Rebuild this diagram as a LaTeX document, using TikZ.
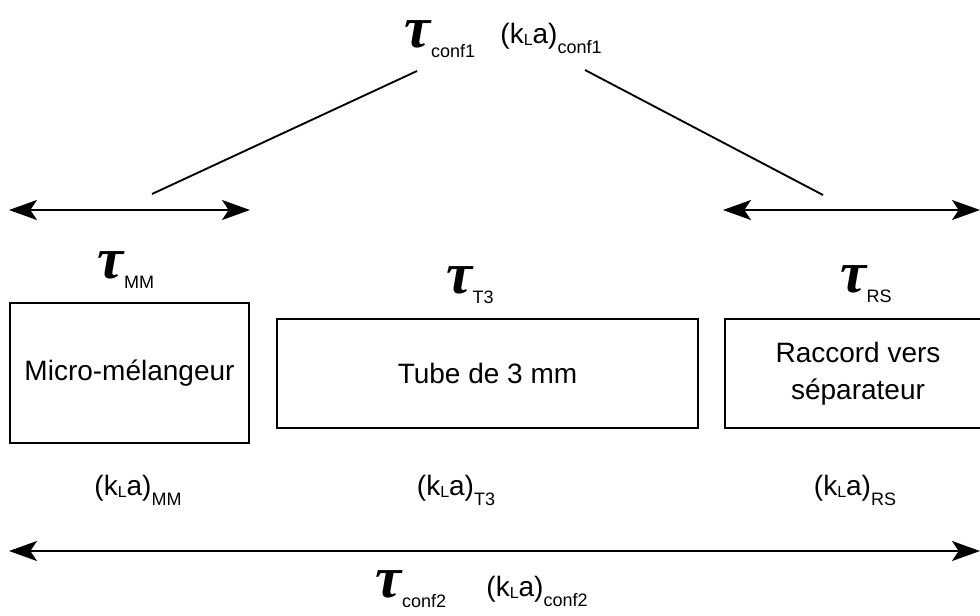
\documentclass[tikz,border=0pt]{standalone}
\usepackage{fontspec}
\setmainfont{Liberation Sans}
\newfontfamily\rTauFont{Liberation Serif}
\usetikzlibrary{positioning,arrows.meta,calc}
\tikzset{
  rbox/.style={draw=black, line width=1.1pt, inner sep=0pt,
               font=\fontsize{21}{27.5}\selectfont, align=center},
  rlab/.style={inner sep=0pt, anchor=base},
  rarr/.style={line width=1.5pt,
               {Stealth[length=21pt,width=15pt,inset=5pt]}-{Stealth[length=21pt,width=15pt,inset=5pt]}},
  rline/.style={line width=1.4pt},
}
\newcommand{\rTau}[1]{{\rTauFont\bfseries\itshape\fontsize{44}{46}\selectfont τ}\raisebox{-8pt}{\fontsize{13.5}{15}\selectfont #1}}
\newcommand{\rKla}[1]{{\fontsize{21}{24}\selectfont(k\raisebox{-2pt}{\fontsize{12}{14}\selectfont L}a)}\raisebox{-7.5pt}{\fontsize{13.5}{15}\selectfont #1}}

\begin{document}
\begin{tikzpicture}[x=0.75pt, y=-0.75pt]
  \useasboundingbox (0,0) rectangle (980,615);
  % blocks
  \node[rbox, minimum width=179pt, minimum height=105pt] (MM) at (129.5,373) {Micro-mélangeur};
  \node[rbox, minimum width=316pt, minimum height=82pt] (T3) at (487.5,373.5) {Tube de 3 mm};
  \node[rbox, minimum width=199.5pt, minimum height=82pt] (RS) at (858,373.5) {Raccord vers\\séparateur};
  % residence times
  \node[rlab] (tauMM) at (126,278) {\rTau{MM}};
  \node[rlab] (tauT3) at (470,293) {\rTau{T3}};
  \node[rlab] (tauRS) at (866,292) {\rTau{RS}};
  \node[rlab] (tauC1) at (440,47) {\rTau{conf1}};
  \node[rlab] (tauC2) at (411,597) {\rTau{conf2}};
  % transfer coefficients
  \node[rlab] (klaMM) at (138,495) {\rKla{MM}};
  \node[rlab] (klaT3) at (456,495) {\rKla{T3}};
  \node[rlab] (klaRS) at (855,495) {\rKla{RS}};
  \node[rlab] (klaC1) at (551,43) {\rKla{conf1}};
  \node[rlab] (klaC2) at (537,596) {\rKla{conf2}};
  % arrows
  \coordinate (aL1) at (9,210);
  \coordinate (aL2) at (250,210);
  \coordinate (aR1) at (723,210);
  \coordinate (aR2) at (980,210);
  \coordinate (aB1) at (9,551);
  \coordinate (aB2) at (980,551);
  \draw[rarr] (aL1) -- (aL2);
  \draw[rarr] (aR1) -- (aR2);
  \draw[rarr] (aB1) -- (aB2);
  % links to conf1
  \coordinate (lL) at (152,194);
  \coordinate (lLt) at (417,71);
  \coordinate (lRt) at (585,70);
  \coordinate (lR) at (823,195);
  \draw[rline] (lL) -- (lLt);
  \draw[rline] (lRt) -- (lR);
\end{tikzpicture}
\end{document}
